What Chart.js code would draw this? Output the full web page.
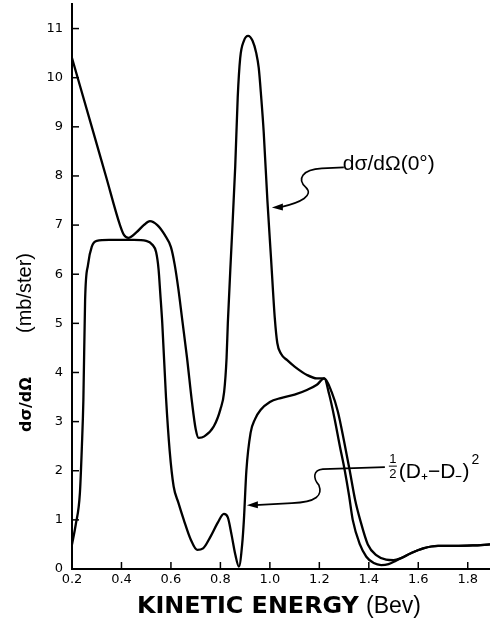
<!DOCTYPE html>
<html>
<head>
<meta charset="utf-8">
<script src="https://cdn.jsdelivr.net/npm/chart.js@4"></script>
<style>
  html, body { margin: 0; padding: 0; background: #fff; }
  #wrap { width: 490px; height: 620px; }
</style>
</head>
<body>
<div id="wrap"><canvas id="chart" width="490" height="620"></canvas></div>
<script>
// kinetic energy (Bev) and cross sections (mb/ster)
const crossEnergy = [0.2, 0.28, 0.337, 0.394, 0.41, 0.428, 0.46, 0.49, 0.515, 0.545, 0.575, 0.60, 0.615, 0.63, 0.645,
    0.665, 0.685, 0.70, 0.712, 0.735, 0.773, 0.80, 0.815, 0.825, 0.83, 0.845, 0.86, 0.87, 0.88, 0.895, 0.912,
    0.93, 0.945, 0.955, 0.965, 0.975, 0.99, 1.005, 1.02, 1.03, 1.045, 1.07, 1.1, 1.15, 1.19, 1.22, 1.25,
    1.275, 1.3, 1.323, 1.345, 1.365, 1.396, 1.43, 1.47, 1.5, 1.53, 1.57, 1.62, 1.68, 1.75, 1.82, 1.89];
const crossValues = [10.4, 9.0, 8.0, 7.0, 6.8, 6.74, 6.85, 7.0, 7.08, 7.0, 6.8, 6.55, 6.2, 5.7, 5.1,
    4.3, 3.4, 2.85, 2.67, 2.7, 2.9, 3.25, 3.6, 4.3, 5.0, 6.6, 8.2, 9.6, 10.4, 10.75, 10.85,
    10.75, 10.5, 10.2, 9.6, 8.9, 7.5, 6.3, 5.1, 4.6, 4.38, 4.25, 4.12, 3.95, 3.88, 3.88, 3.6,
    3.2, 2.6, 2.0, 1.4, 1.0, 0.5, 0.28, 0.19, 0.18, 0.22, 0.32, 0.42, 0.47, 0.47, 0.48, 0.5];

const diffEnergy = [0.2, 0.215, 0.232, 0.24, 0.246, 0.253, 0.265, 0.28, 0.30, 0.35, 0.45, 0.5, 0.525, 0.54,
    0.55, 0.557, 0.565, 0.58, 0.595, 0.611, 0.63, 0.652, 0.68, 0.706, 0.73, 0.76, 0.79, 0.814, 0.83,
    0.845, 0.86, 0.875, 0.888, 0.895, 0.905, 0.922, 0.94, 0.963, 1.0, 1.044, 1.1, 1.152, 1.19, 1.22,
    1.24, 1.26, 1.283, 1.303, 1.32, 1.335, 1.364, 1.39, 1.42, 1.45, 1.48, 1.51, 1.53, 1.57, 1.62, 1.68,
    1.75, 1.82, 1.89];
const diffValues = [0.5, 0.9, 1.55, 2.5, 3.44, 5.48, 6.2, 6.56, 6.68, 6.7, 6.7, 6.68, 6.6, 6.45,
    6.1, 5.6, 5.0, 3.5, 2.4, 1.68, 1.35, 1.0, 0.6, 0.39, 0.42, 0.66, 0.95, 1.12, 1.05,
    0.7, 0.3, 0.05, 0.5, 1.0, 2.0, 2.77, 3.05, 3.24, 3.4, 3.48, 3.55, 3.65, 3.75, 3.88,
    3.55, 3.1, 2.5, 2.0, 1.5, 1.0, 0.5, 0.25, 0.12, 0.08, 0.1, 0.17, 0.22, 0.32, 0.42, 0.47,
    0.47, 0.48, 0.5];

const xTicks = [0.2, 0.4, 0.6, 0.8, 1.0, 1.2, 1.4, 1.6, 1.8];
const xTickLabels = ['0.2', '0.4', '0.6', '0.8', '1.0', '1.2', '1.4', '1.6', '1.8'];
const yTicks = [0, 1, 2, 3, 4, 5, 6, 7, 8, 9, 10, 11];

const toPoints = (xs, ys) => xs.map((x, i) => ({ x: x, y: ys[i] }));

// inward tick marks, axis titles and the two labelled arrows
const decorations = {
    id: 'decorations',
    afterDraw(chart) {
        const ctx = chart.ctx;
        const xs = chart.scales.x;
        const ys = chart.scales.y;
        const area = chart.chartArea;
        ctx.save();
        ctx.strokeStyle = '#000';
        ctx.fillStyle = '#000';
        ctx.lineWidth = 1.5;

        xTicks.forEach(v => {
            const px = xs.getPixelForValue(v);
            ctx.beginPath();
            ctx.moveTo(px, area.bottom);
            ctx.lineTo(px, area.bottom - 7);
            ctx.stroke();
        });
        yTicks.forEach(v => {
            const py = ys.getPixelForValue(v);
            ctx.beginPath();
            ctx.moveTo(area.left, py);
            ctx.lineTo(area.left + 7, py);
            ctx.stroke();
        });

        // x title: bold words plus unit
        ctx.textBaseline = 'alphabetic';
        ctx.textAlign = 'left';
        let size = 26;
        ctx.font = 'bold ' + size + 'px "DejaVu Sans"';
        size = size * 222 / ctx.measureText('KINETIC ENERGY').width;
        ctx.font = 'bold ' + size + 'px "DejaVu Sans"';
        ctx.fillText('KINETIC ENERGY', 137, 613);
        ctx.font = '23px "Liberation Sans"';
        ctx.fillText('(Bev)', 366, 613);

        // y title, rotated
        ctx.save();
        ctx.translate(31, 432);
        ctx.rotate(-Math.PI / 2);
        ctx.font = 'bold 16px "DejaVu Sans"';
        ctx.fillText('dσ/dΩ', 0, 0);
        ctx.font = '20px "Liberation Sans"';
        ctx.fillText('(mb/ster)', 99, 0);
        ctx.restore();

        const arrowHead = (tx, ty) => {
            ctx.beginPath();
            ctx.moveTo(tx, ty);
            ctx.lineTo(tx + 11, ty - 4);
            ctx.lineTo(tx + 11, ty + 3);
            ctx.closePath();
            ctx.fill();
        };

        // d sigma / d omega (0 deg) label
        let tx = xs.getPixelForValue(1.008);
        let ty = ys.getPixelForValue(7.36);
        ctx.lineWidth = 1.6;
        ctx.beginPath();
        ctx.moveTo(tx + 72, ty - 40);
        ctx.lineTo(tx + 50, ty - 39);
        ctx.bezierCurveTo(tx + 30, ty - 38, tx + 25, ty - 28, tx + 34, ty - 20);
        ctx.bezierCurveTo(tx + 42, ty - 12, tx + 30, ty - 5, tx + 8, ty);
        ctx.stroke();
        arrowHead(tx, ty);
        ctx.font = '21px "Liberation Sans"';
        ctx.fillText('dσ/dΩ(0°)', tx + 71, ty - 37);

        // 1/2 (D+ - D-)^2 label
        tx = xs.getPixelForValue(0.907);
        ty = ys.getPixelForValue(1.30);
        ctx.beginPath();
        ctx.moveTo(tx + 138, ty - 38);
        ctx.lineTo(tx + 76, ty - 36);
        ctx.bezierCurveTo(tx + 66, ty - 35, tx + 66, ty - 27, tx + 72, ty - 20);
        ctx.bezierCurveTo(tx + 76, ty - 10, tx + 70, ty - 3, tx + 45, ty - 2);
        ctx.lineTo(tx + 8, ty);
        ctx.stroke();
        arrowHead(tx, ty);
        ctx.font = '13px "Liberation Sans"';
        ctx.textAlign = 'center';
        ctx.fillText('1', tx + 146, ty - 42);
        ctx.fillText('2', tx + 146, ty - 27);
        ctx.lineWidth = 1;
        ctx.beginPath();
        ctx.moveTo(tx + 142, ty - 39);
        ctx.lineTo(tx + 150, ty - 39);
        ctx.stroke();
        ctx.textAlign = 'left';
        ctx.font = '21px "Liberation Sans"';
        const paren = '(D₊−D₋)';
        ctx.fillText(paren, tx + 152, ty - 27);
        const pw = ctx.measureText(paren).width;
        ctx.font = '14px "Liberation Sans"';
        ctx.fillText('2', tx + 154 + pw, ty - 41);
        ctx.restore();
    }
};

const lineStyle = {
    borderColor: '#000',
    borderWidth: 2.3,
    pointRadius: 0,
    fill: false,
    cubicInterpolationMode: 'monotone'
};

new Chart(document.getElementById('chart'), {
    type: 'line',
    data: {
        datasets: [
            Object.assign({ label: 'dσ/dΩ(0°)', data: toPoints(crossEnergy, crossValues) }, lineStyle),
            Object.assign({ label: '½(D₊−D₋)²', data: toPoints(diffEnergy, diffValues) }, lineStyle)
        ]
    },
    options: {
        responsive: false,
        animation: false,
        devicePixelRatio: 1,
        layout: { padding: { top: 4, right: 0, left: 0, bottom: 0 } },
        plugins: {
            legend: { display: false },
            tooltip: { enabled: false }
        },
        scales: {
            x: {
                type: 'linear',
                min: 0.2,
                max: 1.89,
                afterBuildTicks: scale => {
                    scale.ticks = xTicks.map(v => ({ value: v }));
                },
                afterFit: scale => { scale.height = 51; },
                ticks: {
                    color: '#000',
                    padding: 3,
                    font: { family: 'DejaVu Sans', size: 13 },
                    maxRotation: 0,
                    autoSkip: false,
                    callback: (v, i) => xTickLabels[i]
                },
                grid: { display: false, drawTicks: false },
                border: { display: true, color: '#000', width: 2 }
            },
            y: {
                type: 'linear',
                min: 0,
                max: 11.5,
                afterBuildTicks: scale => {
                    scale.ticks = yTicks.map(v => ({ value: v }));
                },
                afterFit: scale => {
                    scale.width = 72;
                    scale.paddingTop = 0;
                    scale.paddingBottom = 0;
                },
                ticks: {
                    color: '#000',
                    padding: 9,
                    font: { family: 'DejaVu Sans', size: 13 },
                    autoSkip: false,
                    callback: v => String(v)
                },
                grid: { display: false, drawTicks: false },
                border: { display: true, color: '#000', width: 2 }
            }
        }
    },
    plugins: [decorations]
});
</script>
</body>
</html>
